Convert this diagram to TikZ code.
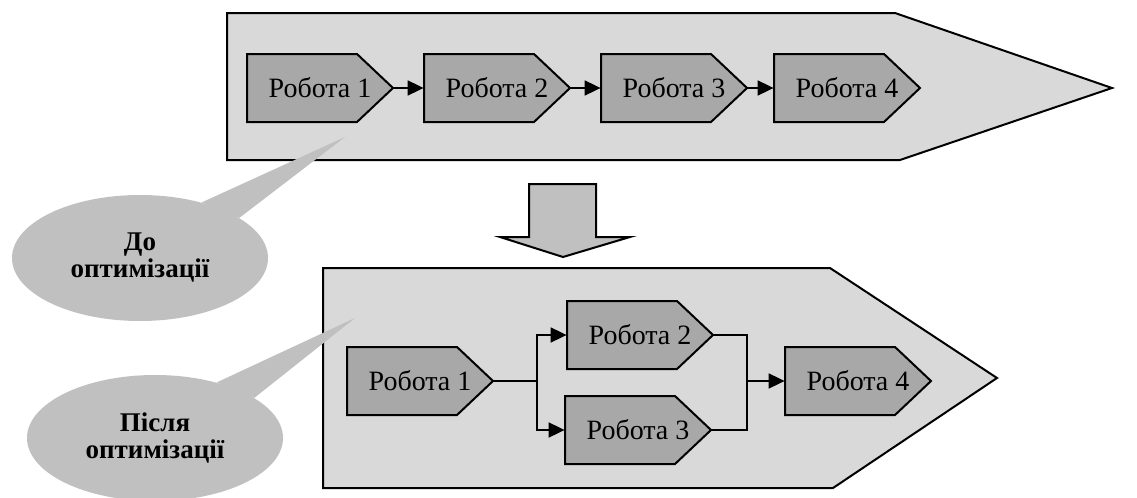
\documentclass[tikz,border=0pt]{standalone}
\usepackage{fontspec}
\setmainfont{Liberation Serif}
\usetikzlibrary{positioning, calc}
\usetikzlibrary{shapes, arrows.meta}

% pentagon box with a named text node on top
\newcommand{\job}[4]{%
	\draw [jobline] (#2-73,#3-34) -- (#2+37,#3-34) -- (#2+73,#3)
		-- (#2+37,#3+34) -- (#2-73,#3+34) -- cycle;
	\node [jobtext] (#1) at (#2,#3) {#4};
}

\begin{document}
\begin{tikzpicture}[x=0.5pt, y=-0.5pt]
\definecolor{lightgrey}{RGB}{217,217,217};
\definecolor{midgrey}{RGB}{192,192,192};
\definecolor{darkgrey}{RGB}{168,168,168};
\useasboundingbox (0,0) rectangle (1137,498);
\tikzstyle{jobline}=[draw=black, line width=1pt, fill=darkgrey];
\tikzstyle{jobtext}=[shape=rectangle, minimum width=73pt, minimum height=34pt,
                     inner sep=0pt, font=\fontsize{14}{16}\selectfont];
\tikzstyle{link}=[line width=0.9pt, -{Triangle[length=8pt,width=7.5pt]}];
\tikzstyle{bubble}=[fill=midgrey, shape=ellipse, minimum width=128pt,
                    minimum height=63pt, align=center,
                    font=\fontsize{13.5}{13.5}\selectfont\bfseries];
% before
\draw [fill=lightgrey, line width=1pt] (227,13) -- (895,13) -- (1112,88) -- (900,160) -- (227,160) -- cycle;
\foreach \n/\x in {1/320,2/497,3/674,4/847} {
	\job{a\n}{\x}{88}{Робота \n}
}
\foreach \n [count=\m from 2] in {1,2,3} {
	\draw [link] (a\n.east) -- (a\m.west);
}
% down arrow
\draw [fill=midgrey, line width=1pt] (529,184) -- (596,184) -- (596,237) -- (630,237) -- (563,257) -- (500,237) -- (529,237) -- cycle;
% after
\draw [fill=lightgrey, line width=1pt] (323,268) -- (830,268) -- (997,378) -- (833,488) -- (323,488) -- cycle;
\job{b1}{420}{381}{Робота 1}
\job{b2}{640}{335}{Робота 2}
\job{b3}{638}{430}{Робота 3}
\job{b4}{858}{381}{Робота 4}
\coordinate (fork) at (537,381);
\coordinate (join) at (747,381);
\draw [line width=0.9pt] (b1.east) -- (fork);
\draw [link] (fork) |- (b2.west);
\draw [link] (fork) |- (b3.west);
\draw [line width=0.9pt] (b2.east) -| (join) |- (b3.east);
\draw [link] (join) -- (b4.west);
% callouts
\node [bubble] (before) at (140,258) {До\\оптимізації};
\coordinate (tip1) at (345,137);
\fill [midgrey] (before.42) -- (tip1) -- (before.22) -- cycle;
\node [bubble] (after) at (155,438) {Після\\оптимізації};
\coordinate (tip2) at (355,318);
\fill [midgrey] (after.42) -- (tip2) -- (after.22) -- cycle;

\end{tikzpicture}
\end{document}
